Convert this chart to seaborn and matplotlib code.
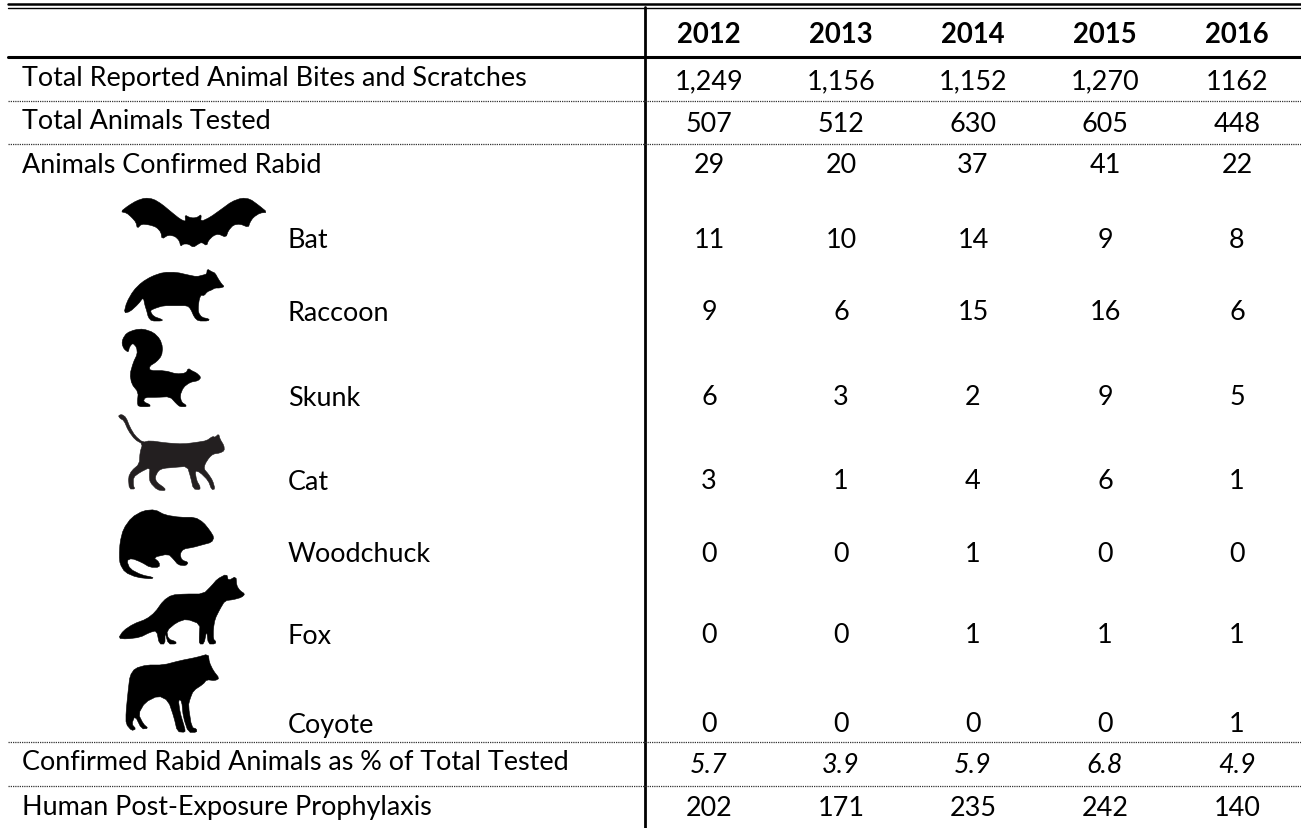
import numpy as np
import pandas as pd
import matplotlib
matplotlib.use("Agg")
import matplotlib.pyplot as plt
from matplotlib.patches import Polygon
import seaborn as sns

years = ["2012", "2013", "2014", "2015", "2016"]
row_names = ["Total Reported Animal Bites and Scratches", "Total Animals Tested",
             "Animals Confirmed Rabid", "Bat", "Raccoon", "Skunk", "Cat", "Woodchuck",
             "Fox", "Coyote", "Confirmed Rabid Animals as % of Total Tested",
             "Human Post-Exposure Prophylaxis"]

bites = ["1,249", "1,156", "1,152", "1,270", "1162"]
tested = ["507", "512", "630", "605", "448"]
rabid = ["29", "20", "37", "41", "22"]
bat = ["11", "10", "14", "9", "8"]
raccoon = ["9", "6", "15", "16", "6"]
skunk = ["6", "3", "2", "9", "5"]
cat = ["3", "1", "4", "6", "1"]
woodchuck = ["0", "0", "1", "0", "0"]
fox = ["0", "0", "1", "1", "1"]
coyote = ["0", "0", "0", "0", "1"]
percent = ["5.7", "3.9", "5.9", "6.8", "4.9"]
pep = ["202", "171", "235", "242", "140"]
rows = [bites, tested, rabid, bat, raccoon, skunk, cat, woodchuck, fox, coyote, percent, pep]

# layout, in pixels of the 1301x829 picture
W, H = 1301, 829
value_y = [82, 125, 166, 241, 313, 398, 482, 555, 636, 725, 766, 809]
label_y = [78, 121, 165, 240, 313, 398, 482, 555, 636, 725, 763, 808]
label_x = [22, 22, 22, 288, 288, 288, 288, 288, 288, 288, 22, 22]
dotted_y = [102, 145, 743, 787]

sns.set_theme(style="white")
plt.rcParams["font.family"] = ["Lato", "DejaVu Sans"]
FS = 19.45

fig = plt.figure(figsize=(W / 100, H / 100), dpi=100)


def table_row(labels, yc, **kw):
    # one heatmap per row since the rows are not the same height
    ax = fig.add_axes([643 / W, 1 - (yc + 20) / H, 660 / W, 40 / H])
    df = pd.DataFrame([[0.0] * len(labels)], columns=years)
    sns.heatmap(df, annot=np.array([labels]), fmt="", cmap=["white"], cbar=False,
                xticklabels=False, yticklabels=False, ax=ax,
                annot_kws=dict(color="black", **kw))
    ax.set_xlabel("")
    ax.set_ylabel("")


table_row(years, 35, fontsize=FS + 0.4, fontweight="bold")
for i, r in enumerate(rows):
    style = "italic" if r is percent else "normal"
    table_row(r, value_y[i], fontsize=FS, fontstyle=style)

# overlay in pixel coordinates for rules, row names and the icons
ov = fig.add_axes([0, 0, 1, 1], facecolor="none")
ov.set_xlim(0, W)
ov.set_ylim(H, 0)
ov.axis("off")

ov.plot([8, W], [5, 5], color="black", lw=1.8)
ov.plot([8, W], [8.5, 8.5], color="black", lw=1.0)
ov.plot([8, W], [57.5, 57.5], color="black", lw=2.2)
ov.plot([645, 645], [8, H], color="black", lw=2.0)
for y in dotted_y:
    ov.plot([8, W], [y, y], color="#333333", lw=0.9, ls=(0, (1, 0.8)))

for name, x, y in zip(row_names, label_x, label_y):
    ov.text(x, y, name, fontsize=FS, va="center", ha="left", color="black")


def icon(pts, ox, oy, color="black"):
    pts = np.array(pts, dtype=float)
    # cut the corners a bit, the originals are soft shapes
    nxt = np.roll(pts, -1, axis=0)
    pts = np.column_stack([0.78 * pts + 0.22 * nxt, 0.22 * pts + 0.78 * nxt]).reshape(-1, 2)
    pts = pts / 3 + [ox, oy]
    ov.add_patch(Polygon(pts, closed=True, fc=color, ec=color, lw=0.4, joinstyle="round"))


# silhouettes (zoom coordinates, 3x)
icon([(62, 68), (85, 50), (110, 35), (135, 27), (160, 30), (185, 45), (215, 70), (240, 90),
      (257, 98), (255, 78), (268, 85), (280, 87), (292, 85), (304, 76), (302, 98), (330, 85),
      (365, 60), (395, 38), (425, 27), (450, 30), (475, 48), (502, 70), (480, 72), (460, 85),
      (450, 100), (445, 115), (420, 105), (400, 108), (385, 125), (378, 145), (355, 135),
      (340, 140), (325, 155), (320, 170), (305, 160), (295, 165), (280, 175), (265, 165),
      (250, 165), (242, 172), (238, 155), (225, 142), (205, 138), (186, 150), (183, 130),
      (170, 115), (150, 108), (125, 105), (112, 118), (108, 100), (95, 85), (80, 72)], 100, 190)
icon([(72, 372), (80, 340), (100, 305), (125, 280), (155, 262), (190, 250), (230, 250),
      (265, 258), (290, 263), (310, 258), (320, 255), (322, 240), (335, 248), (345, 252),
      (355, 270), (365, 285), (373, 293), (360, 297), (345, 297), (335, 303), (322, 308),
      (312, 320), (303, 318), (298, 330), (295, 350), (295, 370), (305, 385), (328, 390),
      (325, 396), (295, 396), (283, 385), (272, 360), (262, 350), (230, 350), (190, 350),
      (165, 358), (150, 365), (160, 382), (188, 392), (185, 396), (155, 396), (145, 385),
      (140, 365), (135, 350), (130, 325), (115, 345), (90, 368)], 100, 190)
icon([(68, -30), (80, -48), (105, -58), (130, -60), (160, -50), (180, -30), (188, -5),
      (185, 20), (170, 38), (148, 52), (150, 65), (195, 65), (230, 75), (258, 72), (265, 58),
      (275, 65), (290, 72), (303, 85), (295, 95), (270, 100), (250, 115), (240, 140),
      (245, 160), (258, 168), (258, 173), (240, 173), (230, 165), (210, 143), (170, 145),
      (135, 145), (130, 158), (150, 167), (150, 173), (115, 173), (112, 160), (115, 130),
      (95, 105), (90, 75), (100, 40), (112, 15), (110, -5), (98, -18), (88, -5), (85, 10),
      (72, 0), (66, -15)], 100, 350)
icon([(55, 200), (65, 196), (78, 205), (90, 235), (105, 260), (128, 280), (150, 275),
      (200, 282), (250, 285), (290, 280), (320, 275), (338, 262), (345, 265), (356, 255),
      (360, 270), (372, 290), (373, 305), (360, 312), (340, 315), (328, 325), (315, 345),
      (312, 360), (325, 375), (338, 395), (345, 420), (335, 422), (325, 395), (300, 370),
      (285, 365), (290, 395), (300, 412), (300, 422), (280, 420), (272, 385), (262, 352),
      (225, 355), (190, 358), (175, 365), (165, 385), (170, 400), (195, 418), (195, 425),
      (172, 423), (150, 400), (148, 380), (150, 355), (120, 370), (100, 385), (100, 410),
      (105, 420), (88, 420), (85, 385), (95, 365), (118, 345), (120, 310), (128, 285),
      (105, 272), (85, 245), (72, 215), (60, 208)], 100, 350, color="#231f20")
icon([(60, 130), (70, 90), (95, 55), (130, 35), (165, 32), (195, 48), (240, 55), (285, 55),
      (310, 70), (330, 95), (342, 115), (335, 130), (305, 138), (280, 145), (250, 150),
      (240, 165), (245, 183), (265, 190), (258, 200), (235, 198), (220, 180), (205, 165),
      (160, 175), (178, 190), (178, 205), (150, 205), (125, 190), (95, 178), (80, 185),
      (90, 210), (125, 228), (160, 235), (155, 240), (110, 235), (75, 220), (60, 195),
      (58, 170)], 100, 500)
icon([(55, 148), (70, 125), (100, 105), (140, 90), (165, 70), (190, 35), (215, 18), (255, 15),
      (310, 15), (335, -10), (352, -30), (380, -45), (385, -25), (408, -38), (410, -10),
      (420, 5), (435, 15), (425, 25), (400, 32), (375, 35), (360, 60), (345, 90), (340, 120),
      (340, 150), (348, 158), (345, 165), (325, 165), (320, 125), (312, 165), (298, 165),
      (298, 140), (300, 105), (260, 90), (230, 100), (200, 125), (205, 150), (228, 158),
      (228, 165), (205, 165), (195, 130), (195, 165), (178, 165), (170, 125), (150, 130),
      (120, 145), (80, 150)], 100, 590)
icon([(78, 370), (85, 300), (90, 260), (105, 238), (140, 228), (190, 228), (240, 215),
      (290, 205), (325, 195), (328, 220), (340, 245), (358, 268), (345, 275), (320, 272),
      (310, 285), (280, 305), (270, 330), (265, 350), (275, 415), (290, 420), (290, 430),
      (265, 430), (250, 385), (245, 335), (235, 332), (240, 370), (255, 420), (255, 430),
      (232, 428), (222, 385), (205, 335), (175, 320), (135, 340), (115, 375), (130, 405),
      (145, 418), (125, 420), (105, 380), (95, 405), (108, 420), (95, 425), (78, 405)], 100, 590)

fig.savefig("out.png", dpi=100)
